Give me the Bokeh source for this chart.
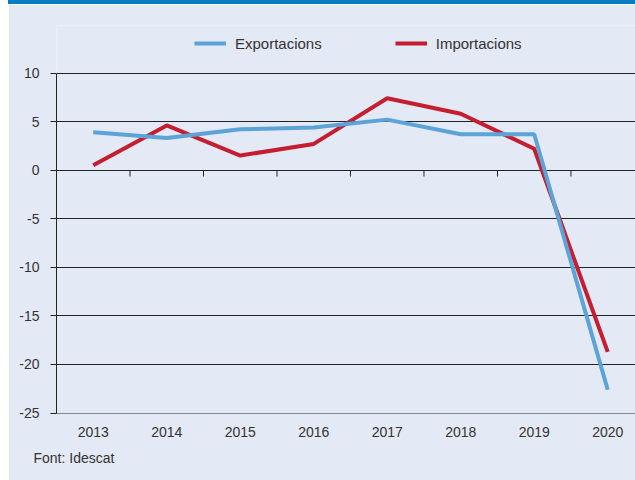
from bokeh.plotting import figure
from bokeh.models import Range1d, FixedTicker, Legend, LegendItem, Title
from bokeh.embed import file_html
from bokeh.resources import INLINE
import numpy as np

# ---- data ----
years = ["2013", "2014", "2015", "2016", "2017", "2018", "2019", "2020"]
exportacions = [3.9, 3.3, 4.2, 4.4, 5.2, 3.7, 3.7, -22.6]
importacions = [0.5, 4.6, 1.5, 2.7, 7.4, 5.8, 2.2, -18.7]
y_ticks = [-25, -20, -15, -10, -5, 0, 5, 10]
y_tick_labels = ["-25", "-20", "-15", "-10", "-5", "0", "5", "10"]
series_names = ["Exportacions", "Importacions"]
source_text = "Font: Idescat"

# ---- style ----
BG = "#e3e9f5"
BLUE = "#5ba3d8"
RED = "#c41e30"
BAR = "#0a7cc1"
INK = "#222222"
TXT = "#333333"
FONT = "Liberation Sans"

x = np.arange(len(years)) + 0.5
bounds = np.arange(1, len(years))

p = figure(width=627, height=476, output_backend="svg", toolbar_location=None,
           x_range=Range1d(0, 7.878), y_range=Range1d(-25.05, 14.89),
           min_border_left=48, min_border_right=0, min_border_top=21, min_border_bottom=67)
p.styles = {"margin-left": "8px", "margin-top": "4px", "box-shadow": "0px -4px 0px 0px " + BAR}
p.background_fill_color = BG
p.border_fill_color = BG
p.outline_line_color = None

# grid
p.xgrid.visible = False
p.ygrid.ticker = FixedTicker(ticks=y_ticks)
p.ygrid.grid_line_color = INK
p.ygrid.grid_line_width = 1

# y axis
p.yaxis.ticker = FixedTicker(ticks=y_ticks)
p.yaxis.major_label_overrides = {t: lab for t, lab in zip(y_ticks, y_tick_labels)}
p.yaxis.bounds = (min(y_ticks), max(y_ticks))
p.yaxis.axis_line_color = INK
p.yaxis.major_tick_line_color = INK
p.yaxis.major_tick_out = 6
p.yaxis.major_tick_in = 0
p.yaxis.minor_tick_line_color = None
p.yaxis.major_label_standoff = 11
p.yaxis.major_label_text_font = FONT
p.yaxis.major_label_text_font_size = "14px"
p.yaxis.major_label_text_color = TXT

# x axis
p.xaxis.ticker = FixedTicker(ticks=list(x))
p.xaxis.major_label_overrides = {float(xi): yr for xi, yr in zip(x, years)}
p.xaxis.axis_line_color = None
p.xaxis.major_tick_line_color = None
p.xaxis.minor_tick_line_color = None
p.xaxis.major_label_standoff = 7
p.xaxis.major_label_text_font = FONT
p.xaxis.major_label_text_font_size = "14px"
p.xaxis.major_label_text_color = TXT

# category tick marks on the zero line
p.segment(x0=bounds, y0=0, x1=bounds, y1=-0.65, line_color=INK, line_width=1)

# series
r_imp = p.line(x, importacions, line_color=RED, line_width=4)
r_exp = p.line(x, exportacions, line_color=BLUE, line_width=4)

legend = Legend(items=[LegendItem(label=series_names[0], renderers=[r_exp]),
                       LegendItem(label=series_names[1], renderers=[r_imp])],
                orientation="horizontal", location=(138, 360),
                glyph_width=32, label_standoff=9, spacing=73, padding=0, margin=0,
                border_line_color=None, background_fill_alpha=0,
                label_text_font=FONT, label_text_font_size="15px", label_text_color=TXT)
p.add_layout(legend)

# source note
p.add_layout(Title(text=source_text, align="left", offset=-23, standoff=17,
                   text_font=FONT, text_font_size="14px", text_font_style="normal",
                   text_color=TXT), "below")

open("out.html", "w").write(file_html(p, INLINE))
